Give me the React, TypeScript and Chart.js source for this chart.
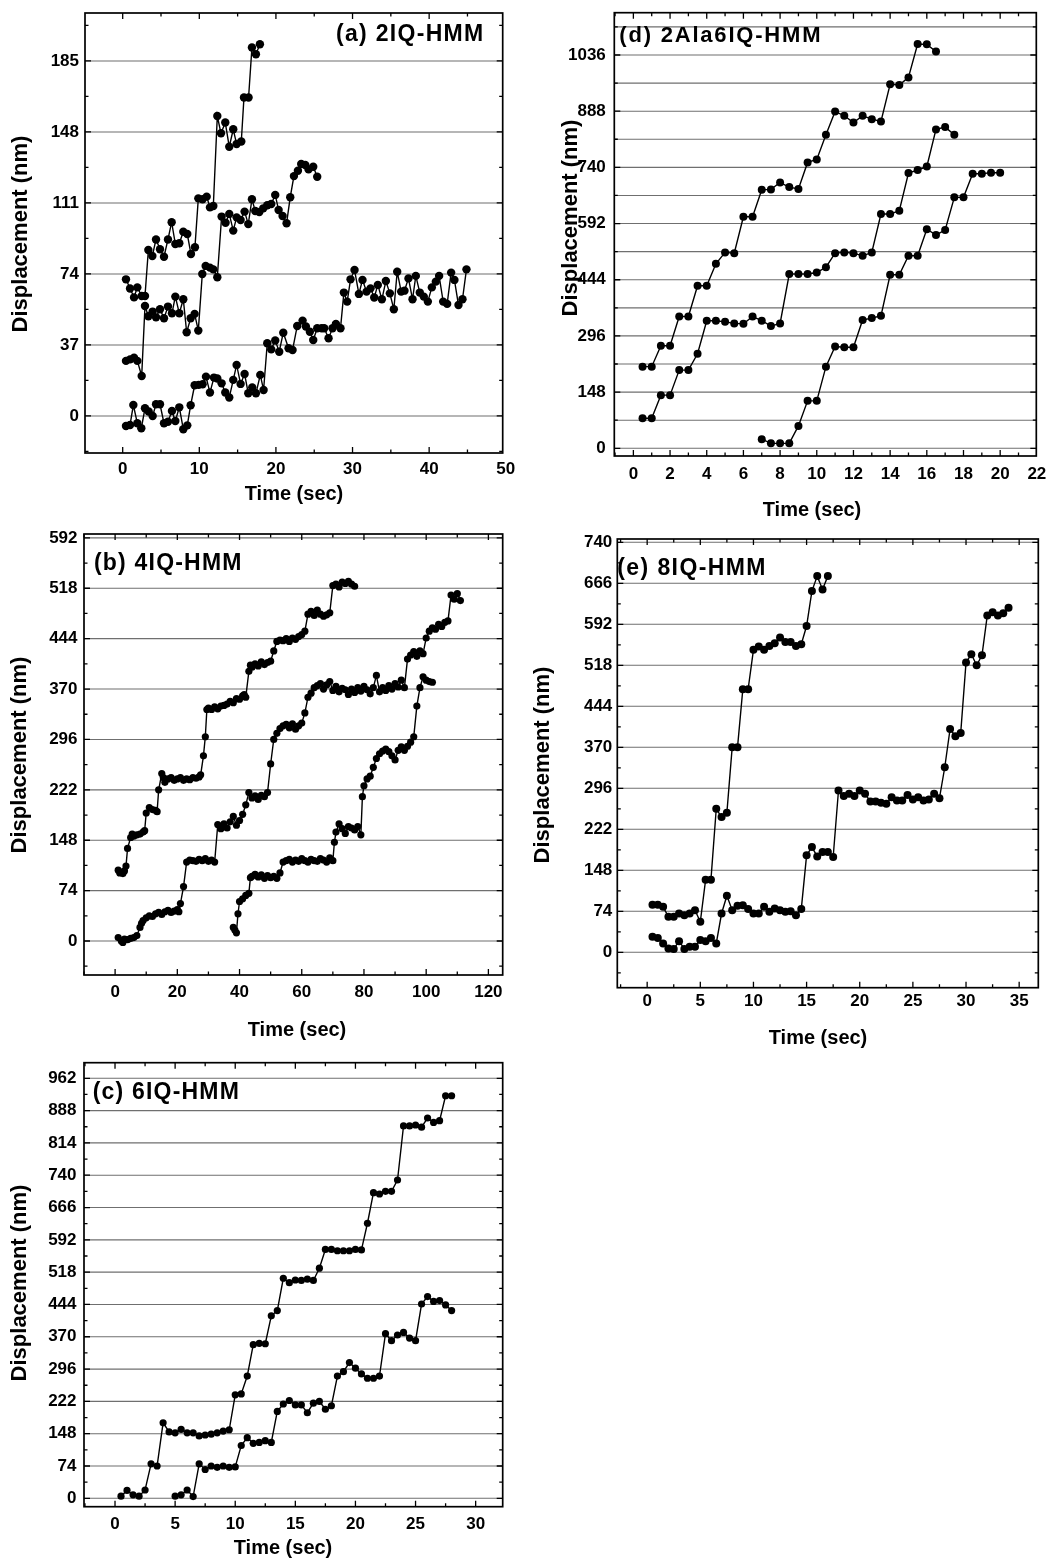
import { useEffect, useRef } from "react";
import { Chart, registerables } from "chart.js";

Chart.register(...registerables);

const FONT = '"Liberation Sans", Arial, Helvetica, sans-serif';
const GRID = "#6f6f6f";

// ---------------- (a) 2IQ-HMM ----------------
const A_X_TICKS = [0, 10, 20, 30, 40, 50];
const A_Y_TICKS = [0, 37, 74, 111, 148, 185];
const A1_T = [0.43, 0.96, 1.48, 1.91, 2.48, 2.91, 3.35, 3.87, 4.35, 4.87, 5.39, 5.91, 6.39, 6.87, 7.39, 7.91, 8.43, 8.91, 9.43, 9.87, 10.43, 10.96, 11.39, 11.83, 12.35, 12.83, 13.39, 13.91, 14.43, 14.87, 15.48, 15.83, 16.43, 16.87, 17.39, 17.91];
const A1_D = [71.2, 66.4, 61.8, 67, 62.5, 62.5, 86.5, 83.4, 92, 86.9, 83, 92, 101, 89.6, 90, 96, 94.8, 84.4, 87.9, 113.4, 112.9, 114.3, 108.7, 109.4, 156.3, 147.3, 152.9, 140.3, 149.4, 141.7, 143, 166, 166, 192, 188.5, 193.7];
const A2_T = [0.43, 0.96, 1.48, 1.91, 2.48, 2.91, 3.35, 3.91, 4.35, 4.87, 5.39, 5.91, 6.43, 6.87, 7.39, 7.91, 8.35, 8.87, 9.39, 9.87, 10.39, 10.83, 11.39, 11.83, 12.35, 12.91, 13.43, 13.91, 14.43, 14.87, 15.39, 15.91, 16.39, 16.87, 17.3, 17.83, 18.35, 18.87, 19.39, 19.91, 20.35, 20.87, 21.39, 21.87, 22.35, 22.87, 23.3, 23.83, 24.26, 24.87, 25.39];
const A2_D = [28.7, 29.5, 30.4, 28.7, 20.8, 57.3, 52, 54.4, 51.4, 55.6, 50.9, 57, 53.5, 62.2, 53.5, 60.8, 43.6, 50.9, 53.2, 44.5, 74, 78.2, 77.3, 76.4, 72.3, 103.9, 100.7, 105.3, 96.6, 103.5, 102.1, 106.5, 100, 112.9, 106.8, 106.3, 108.2, 109.8, 110.5, 115.2, 107.3, 104.2, 100.4, 114, 125, 127.8, 131.3, 130.8, 128.5, 129.9, 124.7];
const A3_T = [0.43, 0.96, 1.39, 1.91, 2.43, 2.91, 3.39, 3.91, 4.35, 4.87, 5.39, 5.91, 6.43, 6.87, 7.39, 7.91, 8.43, 8.87, 9.39, 9.91, 10.43, 10.87, 11.39, 11.91, 12.35, 12.91, 13.39, 13.91, 14.43, 14.87, 15.39, 15.91, 16.39, 16.91, 17.39, 17.96, 18.39, 18.87, 19.39, 19.91, 20.43, 20.96, 21.65, 22.17, 22.78, 23.48, 23.91, 24.43, 24.87, 25.39, 25.96, 26.3, 26.87, 27.39, 27.83, 28.43, 28.87, 29.3, 29.74, 30.26, 30.83, 31.3, 31.83, 32.35, 32.83, 33.3, 33.83, 34.35, 34.87, 35.39, 35.83, 36.35, 36.78, 37.3, 37.83, 38.26, 38.78, 39.3, 39.83, 40.35, 40.87, 41.3, 41.83, 42.35, 42.87, 43.3, 43.83, 44.35, 44.87];
const A3_D = [-5.2, -4.7, 5.7, -3.8, -6.4, 4, 2.3, 0, 6.1, 6.1, -3.8, -3, 2.6, -2.6, 4.5, -6.9, -4.9, 5.6, 16, 16.2, 16.5, 20.5, 12.2, 20, 19.5, 17, 12.2, 9.6, 18.8, 26.6, 16.7, 21.9, 11.8, 14.9, 11.8, 21.4, 13.5, 37.9, 34.7, 39.3, 33.5, 43.4, 35.3, 34.4, 46.9, 49.7, 46.6, 43.9, 39.6, 45.7, 45.7, 45.7, 40.5, 45.7, 47.9, 45.7, 64.3, 59.6, 71.2, 76.1, 63.6, 70.9, 64.8, 66.5, 61.7, 68.3, 60.8, 70.3, 63.9, 55.6, 75.2, 64.8, 65.3, 71.7, 60.8, 73, 64.3, 62.2, 59.6, 67, 70, 73, 59.6, 58.4, 74.7, 70.9, 57.8, 60.8, 76.4];

// ---------------- (d) 2Ala6IQ-HMM ----------------
const D_X_TICKS = [0, 2, 4, 6, 8, 10, 12, 14, 16, 18, 20, 22];
const D_Y_TICKS = [0, 148, 296, 444, 592, 740, 888, 1036];
const D1_T = [0.5, 1, 1.5, 2, 2.5, 3, 3.5, 4, 4.5, 5, 5.5, 6, 6.5, 7, 7.5, 8, 8.5, 9, 9.5, 10, 10.5, 11, 11.5, 12, 12.5, 13, 13.5, 14, 14.5, 15, 15.5, 16, 16.5];
const D1_D = [215, 215, 270, 270, 347, 347, 428, 428, 486, 516, 514, 610, 610, 681, 682, 700, 688, 683, 753, 761, 826, 887, 876, 858, 876, 867, 861, 959, 957, 977, 1065, 1064, 1045];
const D2_T = [0.5, 1, 1.5, 2, 2.5, 3, 3.5, 4, 4.5, 5, 5.5, 6, 6.5, 7, 7.5, 8, 8.5, 9, 9.5, 10, 10.5, 11, 11.5, 12, 12.5, 13, 13.5, 14, 14.5, 15, 15.5, 16, 16.5, 17, 17.5];
const D2_D = [79, 79, 140, 140, 206, 206, 249, 336, 336, 333, 329, 328, 347, 336, 322, 329, 459, 459, 459, 463, 477, 514, 516, 514, 507, 516, 617, 617, 626, 725, 733, 742, 840, 846, 826];
const D3_T = [7, 7.5, 8, 8.5, 9, 9.5, 10, 10.5, 11, 11.5, 12, 12.5, 13, 13.5, 14, 14.5, 15, 15.5, 16, 16.5, 17, 17.5, 18, 18.5, 19, 19.5, 20];
const D3_D = [24, 13, 13, 13, 59, 125, 125, 215, 268, 266, 266, 338, 343, 349, 457, 457, 507, 507, 577, 562, 575, 661, 661, 723, 723, 726, 726];

// ---------------- (b) 4IQ-HMM ----------------
const B_X_TICKS = [0, 20, 40, 60, 80, 100, 120];
const B_Y_TICKS = [0, 74, 148, 222, 296, 370, 444, 518, 592];
const B1_T = [1, 1.5, 2, 2.5, 3, 3.5, 4, 5, 5.5, 6, 7, 8, 9, 9.5, 10, 11, 12, 13, 13.5, 14, 15, 15.5, 16, 17, 18, 19, 20, 21, 22, 23, 24, 25, 26, 27, 27.5, 28.4, 29, 29.5, 30, 31, 32, 33, 34, 35, 36, 37, 38, 39, 40, 41, 41.5, 42, 43, 43.5, 44, 45, 46, 47, 48, 49, 50, 51, 52, 53, 54, 55, 56, 57, 58, 59, 60, 61, 62, 63, 64, 65, 66, 67, 68, 69, 70, 71, 72, 73, 74, 75, 76, 77];
const B1_D = [104, 100, 101, 99, 103, 110, 136, 152, 157, 154, 156, 157, 160, 162, 188, 196, 193, 192, 190, 222, 246, 240, 233, 238, 240, 236, 238, 240, 236, 238, 237, 240, 239, 241, 244, 272, 300, 340, 342, 340, 344, 341, 345, 346, 348, 352, 350, 356, 355, 360, 362, 358, 396, 405, 402, 407, 404, 410, 406, 409, 411, 426, 440, 442, 441, 444, 440, 445, 443, 447, 450, 455, 480, 484, 478, 486, 480, 477, 479, 482, 522, 524, 520, 527, 525, 528, 524, 521];
const B2_T = [1, 2, 2.5, 3, 4, 5, 6, 7, 8, 8.5, 9, 10, 11, 12, 13, 14, 15, 16, 17, 18, 19, 20, 20.5, 21, 22, 23, 24, 25, 26, 27, 28, 29, 30, 31, 32, 33, 34, 35, 36, 37, 38, 39, 40, 41, 42, 43, 44, 45, 46, 47, 48, 49, 50, 51, 52, 53, 54, 55, 56, 57, 58, 59, 60, 61, 62, 63, 64, 65, 66, 67, 68, 69, 70, 71, 72, 73, 74, 75, 76, 77, 78, 79, 80, 81, 82, 83, 84, 85, 86, 87, 88, 89, 90, 91, 92, 93, 94, 95, 96, 97, 98, 99, 100, 101, 102, 103, 104, 105, 106, 107, 108, 109, 110, 111];
const B2_D = [5, 0, -2, 3, 2, 4, 5, 8, 20, 26, 30, 34, 37, 36, 40, 42, 39, 43, 45, 42, 44, 46, 43, 55, 80, 116, 119, 118, 117, 120, 118, 121, 117, 119, 116, 171, 165, 172, 166, 175, 183, 170, 177, 186, 200, 218, 210, 213, 208, 214, 212, 218, 260, 296, 305, 312, 316, 318, 313, 319, 311, 316, 320, 335, 358, 364, 372, 375, 378, 370, 376, 381, 368, 374, 366, 371, 369, 362, 370, 365, 372, 367, 374, 369, 363, 372, 390, 366, 372, 368, 375, 370, 378, 373, 383, 372, 414, 420, 425, 418, 426, 422, 445, 455, 460, 458, 465, 462, 468, 470, 508, 502, 510, 500];
const B3_T = [38, 38.5, 39, 39.5, 40, 41, 42, 43, 43.5, 44, 45, 46, 47, 48, 49, 50, 51, 52, 53, 54, 55, 56, 57, 58, 59, 60, 61, 62, 63, 64, 65, 66, 67, 68, 69, 70, 70.5, 71, 72, 73, 74, 75, 76, 77, 78, 79, 79.5, 80, 81, 82, 83, 84, 85, 86, 87, 88, 89, 90, 91, 92, 93, 94, 95, 96, 97, 98, 99, 100, 101, 102];
const B3_D = [20, 16, 12, 40, 58, 62, 67, 70, 93, 95, 98, 94, 97, 92, 96, 93, 95, 92, 100, 116, 118, 120, 116, 119, 117, 121, 118, 116, 120, 118, 117, 121, 119, 116, 122, 118, 145, 160, 172, 165, 158, 168, 166, 163, 168, 156, 212, 228, 238, 242, 255, 268, 275, 279, 282, 278, 272, 266, 280, 285, 280, 286, 292, 300, 345, 372, 388, 383, 381, 380];

// ---------------- (e) 8IQ-HMM ----------------
const E_X_TICKS = [0, 5, 10, 15, 20, 25, 30, 35];
const E_Y_TICKS = [0, 74, 148, 222, 296, 370, 444, 518, 592, 666, 740];
const E1_T = [0.5, 1, 1.5, 2, 2.5, 3, 3.5, 4, 4.5, 5, 5.5, 6, 6.5, 7, 7.5, 8, 8.5, 9, 9.5, 10, 10.5, 11, 11.5, 12, 12.5, 13, 13.5, 14, 14.5, 15, 15.5, 16, 16.5, 17];
const E1_D = [86, 86, 82, 64, 64, 70, 67, 70, 76, 55, 131, 131, 259, 244, 252, 370, 370, 475, 475, 546, 552, 546, 553, 558, 568, 560, 560, 553, 556, 589, 652, 679, 655, 679];
const E2_T = [0.5, 1, 1.5, 2, 2.5, 3, 3.5, 4, 4.5, 5, 5.5, 6, 6.5, 7, 7.5, 8, 8.5, 9, 9.5, 10, 10.5, 11, 11.5, 12, 12.5, 13, 13.5, 14, 14.5, 15, 15.5, 16, 16.5, 17, 17.5, 18, 18.5, 19, 19.5, 20, 20.5, 21, 21.5, 22, 22.5, 23, 23.5, 24, 24.5, 25, 25.5, 26, 26.5, 27, 27.5, 28, 28.5, 29, 29.5, 30, 30.5, 31, 31.5, 32, 32.5, 33, 33.5, 34];
const E2_D = [28, 26, 16, 7, 6, 20, 6, 10, 10, 22, 20, 26, 16, 70, 102, 76, 84, 85, 78, 70, 70, 82, 73, 79, 76, 73, 74, 67, 78, 175, 190, 173, 181, 181, 172, 292, 282, 286, 282, 292, 286, 272, 272, 270, 268, 280, 274, 274, 284, 276, 280, 274, 276, 286, 278, 334, 403, 390, 396, 523, 538, 518, 536, 608, 614, 608, 612, 622];

// ---------------- (c) 6IQ-HMM ----------------
const C_X_TICKS = [0, 5, 10, 15, 20, 25, 30];
const C_Y_TICKS = [0, 74, 148, 222, 296, 370, 444, 518, 592, 666, 740, 814, 888, 962];
const C1_T = [0.5, 1, 1.5, 2, 2.5, 3, 3.5, 4, 4.5, 5, 5.5, 6, 6.5, 7, 7.5, 8, 8.5, 9, 9.5, 10, 10.5, 11, 11.5, 12, 12.5, 13, 13.5, 14, 14.5, 15, 15.5, 16, 16.5, 17, 17.5, 18, 18.5, 19, 19.5, 20, 20.5, 21, 21.5, 22, 22.5, 23, 23.5, 24, 24.5, 25, 25.5, 26, 26.5, 27, 27.5, 28];
const C1_D = [5, 18, 8, 5, 19, 79, 74, 173, 152, 150, 158, 150, 150, 143, 145, 147, 150, 154, 157, 237, 239, 280, 352, 355, 354, 418, 430, 504, 494, 500, 499, 502, 499, 527, 570, 570, 567, 567, 567, 570, 569, 630, 700, 697, 703, 703, 729, 853, 853, 855, 850, 871, 861, 865, 922, 922];
const C2_T = [5, 5.5, 6, 6.5, 7, 7.5, 8, 8.5, 9, 9.5, 10, 10.5, 11, 11.5, 12, 12.5, 13, 13.5, 14, 14.5, 15, 15.5, 16, 16.5, 17, 17.5, 18, 18.5, 19, 19.5, 20, 20.5, 21, 21.5, 22, 22.5, 23, 23.5, 24, 24.5, 25, 25.5, 26, 26.5, 27, 27.5, 28];
const C2_D = [5, 8, 19, 4, 79, 66, 74, 71, 74, 71, 72, 121, 139, 126, 128, 132, 128, 199, 216, 224, 214, 214, 196, 218, 222, 204, 212, 280, 290, 311, 298, 285, 275, 275, 280, 377, 361, 374, 380, 367, 361, 445, 462, 451, 453, 443, 430];

const X_TITLE = "Time (sec)";
const Y_TITLE = "Displacement (nm)";

type Series = { t: number[]; d: number[] };
interface PanelSpec {
  key: string;
  label: string;
  box: [number, number, number, number];
  plot: [number, number, number, number];
  xRange: [number, number];
  yRange: [number, number];
  xTicks: number[];
  yTicks: number[];
  xMinorStep: number;
  yMinorStep: number;
  gridStep: number;
  xPad: number;
  yPad: number;
  labelPos: [number, number];
  labelSize: number;
  labelSpacing: number;
  xTitlePos: [number, number];
  yTitlePos: [number, number];
  radius: number;
  series: Series[];
}

const PANELS: PanelSpec[] = [
  {
    key: "a", label: "(a) 2IQ-HMM",
    box: [0, 0, 530, 515], plot: [85, 13, 502.7, 453],
    xRange: [-4.92, 49.6], yRange: [-19.3, 210],
    xTicks: A_X_TICKS, yTicks: A_Y_TICKS, xMinorStep: 5, yMinorStep: 18.5, gridStep: 37,
    xPad: 6.5, yPad: 6, labelPos: [336, 35], labelSize: 23, labelSpacing: 1.3,
    xTitlePos: [294, 494], yTitlePos: [21, 234], radius: 4.2,
    series: [{ t: A1_T, d: A1_D }, { t: A2_T, d: A2_D }, { t: A3_T, d: A3_D }],
  },
  {
    key: "d", label: "(d) 2Ala6IQ-HMM",
    box: [530, 0, 519, 530], plot: [614.3, 12.7, 1036.3, 456],
    xRange: [-1.04, 21.97], yRange: [-20.3, 1147.4],
    xTicks: D_X_TICKS, yTicks: D_Y_TICKS, xMinorStep: 1, yMinorStep: 74, gridStep: 74,
    xPad: 8.5, yPad: 8.5, labelPos: [619.3, 36.3], labelSize: 22, labelSpacing: 1.8,
    xTitlePos: [812, 510], yTitlePos: [571, 218], radius: 4,
    series: [{ t: D1_T, d: D1_D }, { t: D2_T, d: D2_D }, { t: D3_T, d: D3_D }],
  },
  {
    key: "b", label: "(b) 4IQ-HMM",
    box: [0, 515, 530, 530], plot: [84, 534, 502.7, 975],
    xRange: [-10, 124.6], yRange: [-49.9, 597.7],
    xTicks: B_X_TICKS, yTicks: B_Y_TICKS, xMinorStep: 10, yMinorStep: 37, gridStep: 74,
    xPad: 7.5, yPad: 6.5, labelPos: [94, 564], labelSize: 23, labelSpacing: 1.2,
    xTitlePos: [297, 1030], yTitlePos: [20, 755], radius: 3.6,
    series: [{ t: B1_T, d: B1_D }, { t: B2_T, d: B2_D }, { t: B3_T, d: B3_D }],
  },
  {
    key: "e", label: "(e) 8IQ-HMM",
    box: [530, 530, 519, 530], plot: [617.3, 539, 1038.3, 987.7],
    xRange: [-2.81, 36.8], yRange: [-63.9, 746],
    xTicks: E_X_TICKS, yTicks: E_Y_TICKS, xMinorStep: 2.5, yMinorStep: 37, gridStep: 74,
    xPad: 3.5, yPad: 5, labelPos: [617.3, 569], labelSize: 23, labelSpacing: 1.4,
    xTitlePos: [818, 1038], yTitlePos: [543, 765], radius: 4,
    series: [{ t: E1_T, d: E1_D }, { t: E2_T, d: E2_D }],
  },
  {
    key: "c", label: "(c) 6IQ-HMM",
    box: [0, 1045, 530, 521], plot: [84, 1062.7, 502.7, 1506.7],
    xRange: [-2.58, 32.25], yRange: [-19.2, 997.7],
    xTicks: C_X_TICKS, yTicks: C_Y_TICKS, xMinorStep: 2.5, yMinorStep: 37, gridStep: 74,
    xPad: 7, yPad: 7.5, labelPos: [92.7, 1093], labelSize: 23, labelSpacing: 1.2,
    xTitlePos: [283, 1548], yTitlePos: [20, 1283], radius: 3.6,
    series: [{ t: C1_T, d: C1_D }, { t: C2_T, d: C2_D }],
  },
];

function stepsIn(min: number, max: number, step: number): number[] {
  const out: number[] = [];
  const start = Math.ceil((min - 1e-9) / step);
  for (let k = start; k * step <= max + 1e-9; k++) out.push(+(k * step).toFixed(6));
  return out;
}

function isIn(v: number, arr: number[]) {
  return arr.some((a) => Math.abs(a - v) < 1e-6);
}

function PanelChart({ p }: { p: PanelSpec }) {
  const ref = useRef<HTMLCanvasElement | null>(null);
  useEffect(() => {
    const canvas = ref.current;
    if (!canvas) return;
    const [cl, ct, cw, ch] = p.box;
    const [L, T, R, B] = p.plot;

    const decor = {
      id: "decor_" + p.key,
      beforeDatasetsDraw(chart: any) {
        const { ctx, chartArea: ca, scales } = chart;
        ctx.save();
        ctx.strokeStyle = GRID;
        ctx.lineWidth = 1.1;
        for (const v of stepsIn(p.yRange[0], p.yRange[1], p.gridStep)) {
          const py = scales.y.getPixelForValue(v);
          ctx.beginPath();
          ctx.moveTo(ca.left, py);
          ctx.lineTo(ca.right, py);
          ctx.stroke();
        }
        ctx.restore();
      },
      afterDraw(chart: any) {
        const { ctx, chartArea: ca, scales } = chart;
        ctx.save();
        ctx.strokeStyle = "#000";
        ctx.lineWidth = 1.3;
        for (const v of stepsIn(p.xRange[0], p.xRange[1], p.xMinorStep)) {
          const px = scales.x.getPixelForValue(v);
          const len = isIn(v, p.xTicks) ? 6 : 3.5;
          ctx.beginPath();
          ctx.moveTo(px, ca.bottom);
          ctx.lineTo(px, ca.bottom - len);
          ctx.moveTo(px, ca.top);
          ctx.lineTo(px, ca.top + len);
          ctx.stroke();
        }
        for (const v of stepsIn(p.yRange[0], p.yRange[1], p.yMinorStep)) {
          const py = scales.y.getPixelForValue(v);
          const len = isIn(v, p.yTicks) ? 6 : 3.5;
          ctx.beginPath();
          ctx.moveTo(ca.left, py);
          ctx.lineTo(ca.left + len, py);
          ctx.moveTo(ca.right, py);
          ctx.lineTo(ca.right - len, py);
          ctx.stroke();
        }
        ctx.lineWidth = 1.7;
        ctx.strokeRect(ca.left, ca.top, ca.right - ca.left, ca.bottom - ca.top);

        ctx.fillStyle = "#000";
        // panel label
        ctx.save();
        ctx.font = `bold ${p.labelSize}px ${FONT}`;
        (ctx as any).letterSpacing = `${p.labelSpacing}px`;
        ctx.textAlign = "left";
        ctx.textBaseline = "middle";
        ctx.fillText(p.label, p.labelPos[0] - cl, p.labelPos[1] - ct);
        ctx.restore();
        // x title
        ctx.save();
        ctx.font = `bold 20px ${FONT}`;
        ctx.textAlign = "center";
        ctx.textBaseline = "middle";
        ctx.fillText(X_TITLE, p.xTitlePos[0] - cl, p.xTitlePos[1] - ct);
        ctx.restore();
        // y title
        ctx.save();
        ctx.font = `bold 22px ${FONT}`;
        ctx.translate(p.yTitlePos[0] - cl, p.yTitlePos[1] - ct);
        ctx.rotate(-Math.PI / 2);
        ctx.textAlign = "center";
        ctx.textBaseline = "middle";
        ctx.fillText(Y_TITLE, 0, 0);
        ctx.restore();
        ctx.restore();
      },
    };

    const tickFont = { family: FONT, size: 17, weight: "bold" as const };

    const chart = new Chart(canvas, {
      type: "scatter",
      data: {
        datasets: p.series.map((s) => ({
          data: s.t.map((t, i) => ({ x: t, y: s.d[i] })),
          showLine: true,
          borderColor: "#000",
          borderWidth: 1.4,
          pointRadius: p.radius,
          pointHoverRadius: p.radius,
          pointBackgroundColor: "#000",
          pointBorderColor: "#000",
          pointBorderWidth: 0,
          tension: 0,
        })),
      },
      options: {
        animation: false,
        responsive: false,
        devicePixelRatio: 1,
        events: [],
        layout: { padding: { left: 0, top: T - ct, right: cl + cw - R, bottom: 0 } },
        plugins: { legend: { display: false }, tooltip: { enabled: false }, title: { display: false } },
        scales: {
          x: {
            type: "linear",
            min: p.xRange[0],
            max: p.xRange[1],
            grid: { display: false, drawTicks: false },
            border: { display: false },
            ticks: {
              color: "#000",
              font: tickFont,
              padding: p.xPad,
              autoSkip: false,
              maxRotation: 0,
              includeBounds: false,
              callback: (v: any) => String(v),
            },
            afterBuildTicks: (s: any) => {
              s.ticks = p.xTicks.map((v) => ({ value: v }));
            },
            afterFit: (s: any) => {
              s.height = ct + ch - B;
              s.paddingLeft = 0;
              s.paddingRight = 0;
            },
          },
          y: {
            type: "linear",
            min: p.yRange[0],
            max: p.yRange[1],
            grid: { display: false, drawTicks: false },
            border: { display: false },
            ticks: {
              color: "#000",
              font: tickFont,
              padding: p.yPad,
              autoSkip: false,
              includeBounds: false,
              callback: (v: any) => String(v),
            },
            afterBuildTicks: (s: any) => {
              s.ticks = p.yTicks.map((v) => ({ value: v }));
            },
            afterFit: (s: any) => {
              s.width = L - cl;
              s.paddingTop = 0;
              s.paddingBottom = 0;
            },
          },
        },
      } as any,
      plugins: [decor],
    });
    return () => chart.destroy();
  }, [p]);

  const [cl, ct, cw, ch] = p.box;
  return (
    <canvas
      ref={ref}
      width={cw}
      height={ch}
      style={{ position: "absolute", left: cl, top: ct, width: cw, height: ch, display: "block" }}
    />
  );
}

export default function App() {
  return (
    <div style={{ position: "absolute", left: 0, top: 0, width: 1049, height: 1566, background: "#fff", overflow: "hidden" }}>
      {PANELS.map((p) => (
        <PanelChart key={p.key} p={p} />
      ))}
    </div>
  );
}
